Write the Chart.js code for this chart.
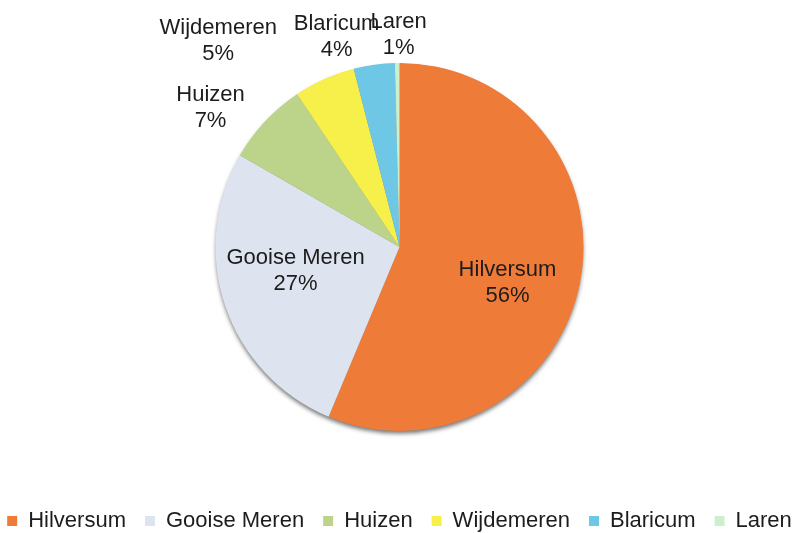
<!DOCTYPE html>
<html>
<head>
<meta charset="utf-8">
<script src="https://cdn.jsdelivr.net/npm/chart.js@4.4.1/dist/chart.umd.min.js"></script>
<style>
  html, body { margin: 0; padding: 0; background: #ffffff; }
  #wrap { width: 799px; height: 533px; }
</style>
</head>
<body>
<div id="wrap"><canvas id="c" width="799" height="533"></canvas></div>
<script>
// ---- data ----
const categories = ["Hilversum", "Gooise Meren", "Huizen", "Wijdemeren", "Blaricum", "Laren"];
const shares = [56.3, 27.0, 7.3, 5.4, 3.6, 0.4];
const percentLabels = ["56%", "27%", "7%", "5%", "4%", "1%"];
const sliceColors = ["#EF7B39", "#DDE4EF", "#BBD489", "#F7F04B", "#6DC7E5", "#CDEFCC"];

// label placement relative to pie centre, in units of the radius
const labelPlacement = [
  [0.587, 0.196], [-0.565, 0.13], [-1.027, -0.755],
  [-0.985, -1.12], [-0.342, -1.141], [-0.005, -1.152]
];

const FONT = "'Liberation Sans', Arial, Helvetica, sans-serif";

const pieShadow = {
  id: 'pieShadow',
  beforeDatasetsDraw(chart) {
    const arc = chart.getDatasetMeta(0).data[0];
    if (!arc) return;
    const ctx = chart.ctx;
    ctx.save();
    ctx.shadowColor = 'rgba(0,0,0,0.55)';
    ctx.shadowBlur = 4;
    ctx.shadowOffsetY = 3;
    ctx.shadowOffsetX = 0;
    ctx.fillStyle = '#8a8a8a';
    ctx.beginPath();
    ctx.arc(arc.x, arc.y, arc.outerRadius - 0.5, 0, Math.PI * 2);
    ctx.fill();
    ctx.restore();
  }
};

const sliceLabels = {
  id: 'sliceLabels',
  afterDatasetsDraw(chart) {
    const meta = chart.getDatasetMeta(0);
    const first = meta.data[0];
    if (!first) return;
    const ctx = chart.ctx;
    const cx = first.x, cy = first.y, r = first.outerRadius;
    ctx.save();
    ctx.font = "22px " + FONT;
    ctx.fillStyle = '#1c1c1c';
    ctx.textAlign = 'center';
    ctx.textBaseline = 'middle';
    const lh = 26;
    categories.forEach((name, i) => {
      const p = labelPlacement[i];
      const x = cx + p[0] * r;
      const y = cy + p[1] * r;
      ctx.fillText(name, x, y - lh / 2);
      ctx.fillText(percentLabels[i], x, y + lh / 2);
    });
    ctx.restore();
  }
};

new Chart(document.getElementById('c'), {
  type: 'pie',
  data: {
    labels: categories,
    datasets: [{
      data: shares,
      backgroundColor: sliceColors,
      borderWidth: 0
    }]
  },
  options: {
    responsive: false,
    animation: false,
    layout: { padding: { top: 63, bottom: -9, left: -20, right: -20 } },
    plugins: {
      legend: {
        position: 'bottom',
        title: {
          display: true,
          text: ' ',
          font: { family: FONT, size: 10 },
          padding: { top: 48, bottom: 0 }
        },
        labels: {
          font: { family: FONT, size: 22 },
          color: '#1c1c1c',
          boxWidth: 10,
          boxHeight: 10,
          padding: 19
        }
      },
      tooltip: { enabled: false },
      title: { display: false }
    }
  },
  plugins: [pieShadow, sliceLabels]
});
</script>
</body>
</html>
